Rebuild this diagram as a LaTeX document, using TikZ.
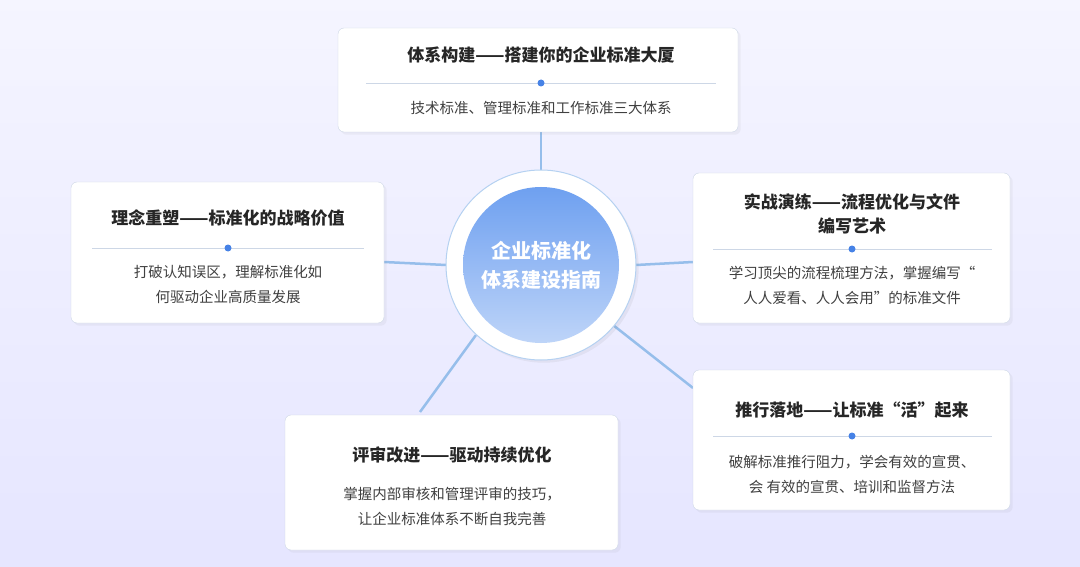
\documentclass[tikz,border=0pt]{standalone}
\usepackage{fontspec}
\setmainfont{Noto Sans CJK SC}
\usetikzlibrary{calc,shadows}
\definecolor{linie}{RGB}{150,190,235}
\definecolor{rahmen}{RGB}{205,215,230}
\definecolor{kern}{RGB}{110,160,240}
\definecolor{punkt}{RGB}{70,130,230}
\tikzset{
  karte/.style={draw=rahmen, fill=white, rounded corners=6pt, drop shadow={opacity=0.08}},
  titel/.style={font=\bfseries\fontsize{17}{24}\selectfont, text=black!85, align=center},
  inhalt/.style={font=\fontsize{14.5}{25}\selectfont, text=black!75, align=center},
  verbinder/.style={linie, line width=2.5pt},
}
\begin{document}
\begin{tikzpicture}[x=1pt,y=-1pt]
    \useasboundingbox (0,0) rectangle (1080,567);
    \shade[top color=blue!4!white, bottom color=blue!10!white] (0,0) rectangle (1080,567);

    % Kreis in der Mitte
    \coordinate (mitte) at (541,265);
    \draw[verbinder] (541,132) -- ($(mitte)+(0,-95)$);
    \draw[verbinder] (384,262) -- ($(mitte)+(-95,0)$);
    \draw[verbinder] (693,262) -- ($(mitte)+(95,0)$);
    \draw[verbinder] ($(mitte)+(-65,70)$) -- (420,412);
    \draw[verbinder] ($(mitte)+(72,60)$) -- (693,388);
    \fill[white, draw=linie!70, line width=1pt, drop shadow={opacity=0.1}] (mitte) circle (95);
    \shade[top color=kern, bottom color=kern!45, draw=none] (mitte) circle (78);
    \node[font=\bfseries\fontsize{20}{29}\selectfont, text=white, align=center] (kern) at (mitte) {企业标准化\\体系建设指南};

    % Karten
    \draw[karte] (338,28) rectangle (738,132);
    \node[titel] (t1) at (541,55) {体系构建——搭建你的企业标准大厦};
    \draw[rahmen] (366,83) -- (716,83);
    \fill[punkt] (541,83) circle (3.5);
    \node[inhalt] (b1) at (541,108) {技术标准、管理标准和工作标准三大体系};

    \draw[karte] (71,182) rectangle (384,323);
    \node[titel] (t2) at (228,218) {理念重塑——标准化的战略价值};
    \draw[rahmen] (92,248) -- (364,248);
    \fill[punkt] (228,248) circle (3.5);
    \node[inhalt] (b2) at (228,285) {打破认知误区，理解标准化如\\何驱动企业高质量发展};

    \draw[karte] (693,173) rectangle (1010,323);
    \node[titel] (t3) at (852,214) {实战演练——流程优化与文件\\编写艺术};
    \draw[rahmen] (713,249) -- (992,249);
    \fill[punkt] (852,249) circle (3.5);
    \node[inhalt] (b3) at (852,285) {学习顶尖的流程梳理方法，掌握编写“\\人人爱看、人人会用”的标准文件};

    \draw[karte] (693,370) rectangle (1010,510);
    \node[titel] (t4) at (852,410) {推行落地——让标准“活”起来};
    \draw[rahmen] (713,436) -- (992,436);
    \fill[punkt] (852,436) circle (3.5);
    \node[inhalt] (b4) at (852,474) {破解标准推行阻力，学会有效的宣贯、\\会 有效的宣贯、培训和监督方法};

    \draw[karte] (285,415) rectangle (618,550);
    \node[titel] (t5) at (452,455) {评审改进——驱动持续优化};
    \node[inhalt] (b5) at (452,506) {掌握内部审核和管理评审的技巧，\\让企业标准体系不断自我完善};

\end{tikzpicture}
\end{document}
